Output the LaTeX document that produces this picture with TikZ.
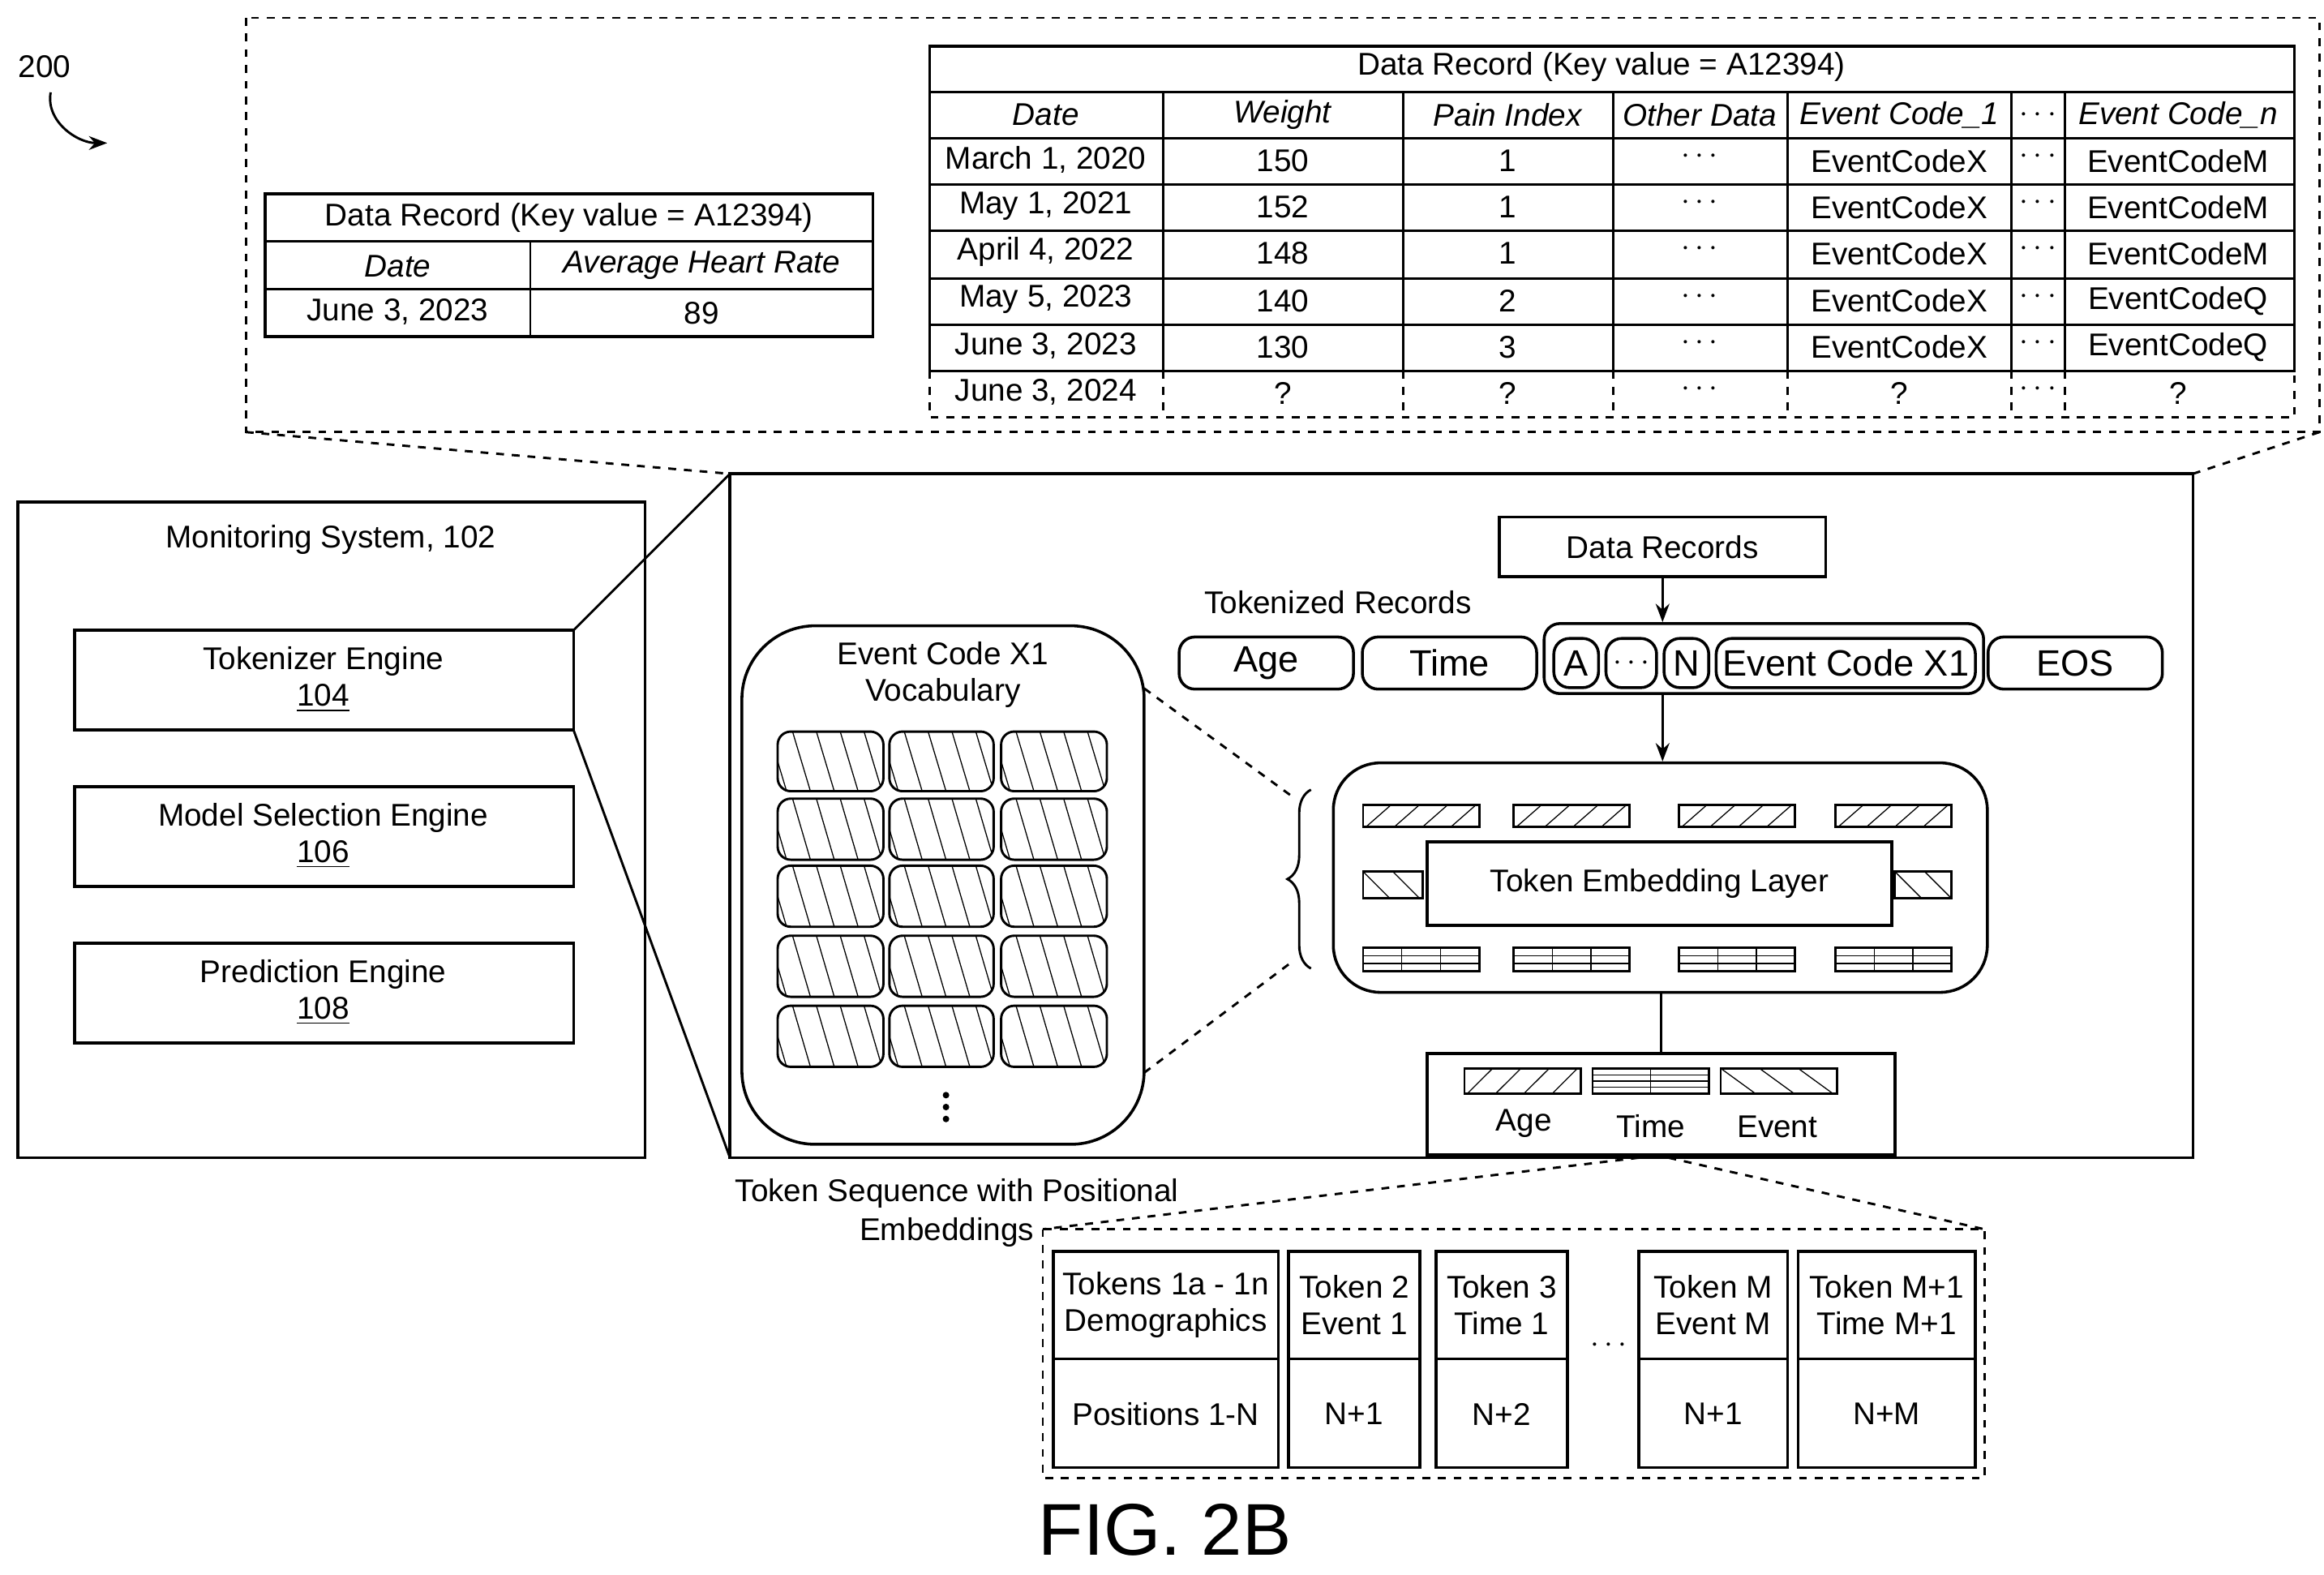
\documentclass[tikz,border=0pt]{standalone}
\usepackage{fontspec}
\setmainfont{Liberation Sans}
\usetikzlibrary{arrows.meta,decorations.pathreplacing}
\newcommand\hsl[5]{% x1 y1 x2 y2 step ; slanted /
\begin{scope}\clip (#1,#2) rectangle (#3,#4);
\foreach \t in {0,#5,...,100} {\draw[thin] (#1+\t-#5*0.9,#4) -- ++(#5*0.9,#2-#4);}\end{scope}}
\newcommand\hbs[5]{%
\begin{scope}\clip (#1,#2) rectangle (#3,#4);
\foreach \t in {0,#5,...,100} {\draw[thin] (#1+\t,#2) -- ++(#5*0.9,#4-#2);}\end{scope}}
\newcommand\hgrid[4]{%
\draw[thin] (#1,#2+5.33) -- (#3,#2+5.33) (#1,#2+10.67) -- (#3,#2+10.67);
\draw[thin] (#1+26,#2) -- (#1+26,#4) (#1+52,#2) -- (#1+52,#4);}
\begin{document}
\begin{tikzpicture}[x=0.02cm,y=-0.02cm,line width=0.9pt,
  every node/.style={font=\fontsize{12}{14}\selectfont,inner sep=0},
  box/.style={draw,line width=1.1pt},
  rbox/.style={draw,line width=1.1pt,rounded corners=6pt},
  dsh/.style={dashed,line width=0.9pt},
  hd/.style={font=\fontsize{12}{14}\selectfont\itshape}]
\useasboundingbox (0,0) rectangle (1560,1057);
% label 200
\node (n200) at (30,45) {200};
\coordinate (a200) at (72,96);
\draw[-{Stealth[length=7pt]}] (34,62) to[out=-100,in=180] (a200);
% top dashed box
\draw[dsh] (165,12) rectangle (1557,290);
\coordinate (tbl) at (165,290); \coordinate (tbr) at (1557,290);
\coordinate (mtl) at (490,318); \coordinate (mtr) at (1472,318);
\draw[dsh] (tbl) -- (mtl); \draw[dsh] (tbr) -- (mtr);
% small table
\draw[box] (178,130) rectangle (586,226);
\draw (178,162) -- (586,162) (178,194) -- (586,194) (356,162) -- (356,226);
\node (st) at (382,146) {Data Record (Key value = A12394)};
\node[hd] (sh1) at (267,179) {Date};
\node[hd] (sh2) at (471,178) {Average Heart Rate};
\node (sd1) at (267,209) {June 3, 2023};
\node (sd2) at (471,210) {89};
% big table
\draw[box] (624,31) rectangle (1540,249);
\foreach \y in {62,93,124,155,187,218} \draw (624,\y) -- (1540,\y);
\foreach \x in {781,942,1083,1200,1350,1386} \draw (\x,62) -- (\x,249);
\draw[dsh] (624,249) -- (624,280) -- (1540,280) -- (1540,249);
\foreach \x in {781,942,1083,1200,1350,1386} \draw[dsh] (\x,249) -- (\x,280);
\node (bt) at (1075,45) {Data Record (Key value = A12394)};
\foreach \x/\t [count=\i] in {702/Date,861/Weight,1012/Pain Index,1141/Other Data,1275/Event Code\_1,1368/$\cdots$,1462/Event Code\_n}
  \node[hd] (bh\i) at (\x,77) {\t};
\foreach \y/\d/\w/\p/\e/\f [count=\j] in {108/{March 1, 2020}/150/1/EventCodeX/EventCodeM,139/{May 1, 2021}/152/1/EventCodeX/EventCodeM,170/{April 4, 2022}/148/1/EventCodeX/EventCodeM,202/{May 5, 2023}/140/2/EventCodeX/EventCodeQ,233/{June 3, 2023}/130/3/EventCodeX/EventCodeQ,264/{June 3, 2024}/?/?/?/?}{
  \node (r\j a) at (702,\y-1) {\d};
  \node (r\j b) at (861,\y) {\w};
  \node (r\j c) at (1012,\y) {\p};
  \node (r\j d) at (1141,\y-3) {$\cdots$};
  \node (r\j e) at (1275,\y) {\e};
  \node (r\j f) at (1368,\y-3) {$\cdots$};
  \node (r\j g) at (1462,\y) {\f};}
% monitoring system
\draw[box] (12,337) rectangle (433,777);
\node (ms) at (222,362) {Monitoring System, 102};
\draw[box] (50,423) rectangle (385,490);
\draw[box] (50,528) rectangle (385,595);
\draw[box] (50,633) rectangle (385,700);
\node[align=center] (t104) at (217,456) {Tokenizer Engine\\\underline{104}};
\node[align=center] (t106) at (217,561) {Model Selection Engine\\\underline{106}};
\node[align=center] (t108) at (217,666) {Prediction Engine\\\underline{108}};
\coordinate (tkt) at (385,423); \coordinate (tkb) at (385,490);
\coordinate (mbl) at (490,777);
\draw (tkt) -- (mtl); \draw (tkb) -- (mbl);
% middle box
\draw[box] (490,318) rectangle (1472,777);
\node[box,minimum width=219*0.02cm,minimum height=40*0.02cm] (dr) at (1116,367) {Data Records};
\node (trl) at (898,404) {Tokenized Records};
\node[rbox,minimum width=117*0.02cm,minimum height=35*0.02cm] (age) at (850,445) {\fontsize{14}{16}\selectfont Age};
\node[rbox,minimum width=117*0.02cm,minimum height=35*0.02cm] (time) at (973,445) {\fontsize{14}{16}\selectfont Time};
\node[rbox,minimum width=295*0.02cm,minimum height=47*0.02cm] (grp) at (1184,442) {};
\node[rbox,minimum width=30*0.02cm,minimum height=33*0.02cm] (ta) at (1058,445) {\fontsize{14}{16}\selectfont A};
\node[rbox,minimum width=34*0.02cm,minimum height=33*0.02cm] (td) at (1095,445) {$\cdots$};
\node[rbox,minimum width=30*0.02cm,minimum height=33*0.02cm] (tn) at (1132,445) {\fontsize{14}{16}\selectfont N};
\node[rbox,minimum width=174*0.02cm,minimum height=33*0.02cm] (tec) at (1239,445) {\fontsize{14}{16}\selectfont Event Code X1};
\node[rbox,minimum width=117*0.02cm,minimum height=35*0.02cm] (eos) at (1393,445) {\fontsize{14}{16}\selectfont EOS};
\draw[-{Stealth[length=7pt]}] (dr.south) -- (dr.south|-grp.north);
% embedding layer
\node[draw,line width=1.1pt,rounded corners=18pt,minimum width=439*0.02cm,minimum height=154*0.02cm] (emb) at (1114.5,589) {};
\draw[-{Stealth[length=7pt]}] (grp.south-|dr.south) -- (dr.south|-emb.north);
\node[box,minimum width=312*0.02cm,minimum height=56*0.02cm] (tel) at (1114,593) {Token Embedding Layer};
\foreach \x in {915,1016,1127,1232}{
  \pgfmathsetmacro\xe{\x+78}
  \draw (\x,540) rectangle (\xe,555); \hsl{\x}{540}{\xe}{555}{19}
  \draw (\x,636) rectangle (\xe,652); \hgrid{\x}{636}{\xe}{652}}
\draw (915,585) rectangle (955,603); \hbs{915}{585}{955}{603}{20}
\draw (1272,585) rectangle (1310,603); \hbs{1272}{585}{1310}{603}{20}
% output box
\node[box,minimum width=314*0.02cm,minimum height=68*0.02cm] (out) at (1115,741) {};
\draw (out.north|-emb.south) -- (out.north);
\draw (983,717) rectangle (1061,734); \hsl{983}{717}{1061}{734}{19}
\draw (1069,717) rectangle (1147,734); \foreach \y in {721.5,725.5,729.5} \draw[thin] (1069,\y) -- (1147,\y); \draw[thin] (1108,717) -- (1108,734);
\draw (1155,717) rectangle (1233,734); \hbs{1155}{717}{1233}{734}{26}
\node (oa) at (1023,754) {Age};
\node (ot) at (1108,756) {Time};
\node (oe) at (1193,756) {Event};
% vocabulary
\node[draw,line width=1.1pt,rounded corners=28pt,minimum width=270*0.02cm,minimum height=348*0.02cm] (voc) at (633,594) {};
\node[align=center] (vt) at (633,453) {Event Code X1\\Vocabulary};
\foreach \x/\xx in {522/593,597/667,672/743}
 \foreach \y/\yy in {491/531,536/577,581/622,628/669,675/716}{
  \begin{scope}\clip[rounded corners=5pt] (\x,\y) rectangle (\xx,\yy);
   \foreach \t in {0,16,...,80} \draw[thin] (\x+\t-6,\y) -- (\x+\t+6,\yy);\end{scope}
  \draw[rounded corners=5pt] (\x,\y) rectangle (\xx,\yy);}
\foreach \y in {735,743,751} \fill (635,\y) circle (2.2);
\coordinate (bt1) at (880,530); \coordinate (bt2) at (880,650);
\draw[decorate,decoration={brace,amplitude=9pt}] (bt2) -- (bt1);
\coordinate (vr1) at (768,462); \coordinate (vr2) at (768,720);
\draw[dsh] (vr1) -- (868,535); \draw[dsh] (vr2) -- (868,645);
% token sequence
\node[anchor=east] (tsl1) at (792,801) {Token Sequence with Positional};
\node[anchor=east] (tsl2) at (695,827) {Embeddings};
\draw[dsh] (700,825) rectangle (1332,992);
\coordinate (ob1) at (1100,777); \coordinate (ob2) at (1120,777);
\draw[dsh] (ob1) -- (700,825); \draw[dsh] (ob2) -- (1332,825);
\foreach \a/\b/\t/\p [count=\k] in {707/858/{Tokens 1a - 1n\\Demographics}/Positions 1-N,865/953/{Token 2\\Event 1}/N+1,964/1052/{Token 3\\Time 1}/N+2,1100/1200/{Token M\\Event M}/N+1,1207/1326/{Token M+1\\Time M+1}/N+M}{
  \draw[box] (\a,840) rectangle (\b,985); \draw[line width=1.1pt] (\a,912) -- (\b,912);
  \node[align=center] (tq\k) at ({(\a+\b)/2},876) {\t};
  \node (pq\k) at ({(\a+\b)/2},949) {\p};}
\node (qd) at (1080,903) {$\cdots$};
\node[font=\fontsize{28}{32}\selectfont] (fig) at (782,1027) {FIG. 2B};
\end{tikzpicture}
\end{document}
